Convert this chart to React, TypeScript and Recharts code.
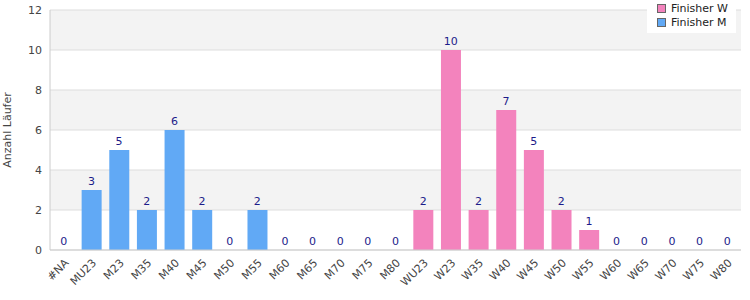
import React from 'react';
import {
  ComposedChart,
  Bar,
  Line,
  Cell,
  XAxis,
  YAxis,
  CartesianGrid,
  LabelList,
} from 'recharts';

const categories = [
  '#NA', 'MU23', 'M23', 'M35', 'M40', 'M45', 'M50', 'M55', 'M60', 'M65', 'M70', 'M75', 'M80',
  'WU23', 'W23', 'W35', 'W40', 'W45', 'W50', 'W55', 'W60', 'W65', 'W70', 'W75', 'W80',
];
const finisherM = [0, 3, 5, 2, 6, 2, 0, 2, 0, 0, 0, 0, 0];
const finisherW = [2, 10, 2, 7, 5, 2, 1, 0, 0, 0, 0, 0];
const yTicks = [0, 2, 4, 6, 8, 10, 12];

const PINK = '#f383bd';
const BLUE = '#61a9f5';
const FONT = 'DejaVu Sans, Verdana, sans-serif';

// one value per category; men first, then women
const data = categories.map((name, i) => ({
  name,
  value: i < finisherM.length ? finisherM[i] : finisherW[i - finisherM.length],
  group: i < finisherM.length ? 'M' : 'W',
}));

const LegendBox = () => (
  <div
    style={{
      position: 'absolute',
      left: 647,
      top: 0,
      background: '#fff',
      width: 89,
      height: 33,
      fontFamily: FONT,
      fontSize: 11,
      color: '#222',
      boxSizing: 'border-box',
      paddingLeft: 10,
      paddingTop: 1,
    }}
  >
    {[
      { label: 'Finisher W', color: PINK },
      { label: 'Finisher M', color: BLUE },
    ].map((e) => (
      <div key={e.label} style={{ display: 'flex', alignItems: 'center', height: 14 }}>
        <span
          style={{
            display: 'inline-block',
            width: 7,
            height: 7,
            background: e.color,
            border: '1px solid #666',
            marginRight: 5,
          }}
        />
        {e.label}
      </div>
    ))}
  </div>
);

export default function App() {
  return (
    <div style={{ position: 'absolute', left: 0, top: 0, width: 750, height: 300, background: '#fff' }}>
      <ComposedChart
        width={750}
        height={300}
        data={data}
        margin={{ top: 10, right: 9, left: 0, bottom: 0 }}
        barSize={20}
      >
        <CartesianGrid
          vertical={false}
          stroke="#dddddd"
          horizontalFill={['#f3f3f3', '#ffffff']}
          fillOpacity={1}
        />
        <XAxis
          dataKey="name"
          interval={0}
          height={50}
          axisLine={{ stroke: '#cccccc' }}
          tickLine={false}
          tick={{ fontSize: 11, fill: '#444', fontFamily: FONT }}
          angle={-45}
          textAnchor="end"
        />
        <YAxis
          domain={[0, 12]}
          ticks={yTicks}
          width={50}
          axisLine={{ stroke: '#cccccc' }}
          tickLine={false}
          tick={{ fontSize: 11, fill: '#444', fontFamily: FONT }}
          label={{
            value: 'Anzahl Läufer',
            angle: -90,
            position: 'insideLeft',
            offset: 0,
            dx: 7,
            style: { fontSize: 11, fill: '#444', fontFamily: FONT, textAnchor: 'middle' },
          }}
        />
        <YAxis
          yAxisId="right"
          orientation="right"
          width={0}
          tick={false}
          tickLine={false}
          axisLine={{ stroke: '#cccccc' }}
        />
        <Bar dataKey="value" isAnimationActive={false}>
          {data.map((d) => (
            <Cell key={d.name} fill={d.group === 'M' ? BLUE : PINK} />
          ))}
        </Bar>
        {/* invisible line only to carry the value labels, zeros included */}
        <Line
          dataKey="value"
          stroke="none"
          dot={false}
          activeDot={false}
          legendType="none"
          isAnimationActive={false}
        >
          <LabelList
            dataKey="value"
            position="top"
            offset={5}
            style={{ fontSize: 11, fill: '#1c1c8a', fontFamily: FONT }}
          />
        </Line>
      </ComposedChart>
      <LegendBox />
    </div>
  );
}
